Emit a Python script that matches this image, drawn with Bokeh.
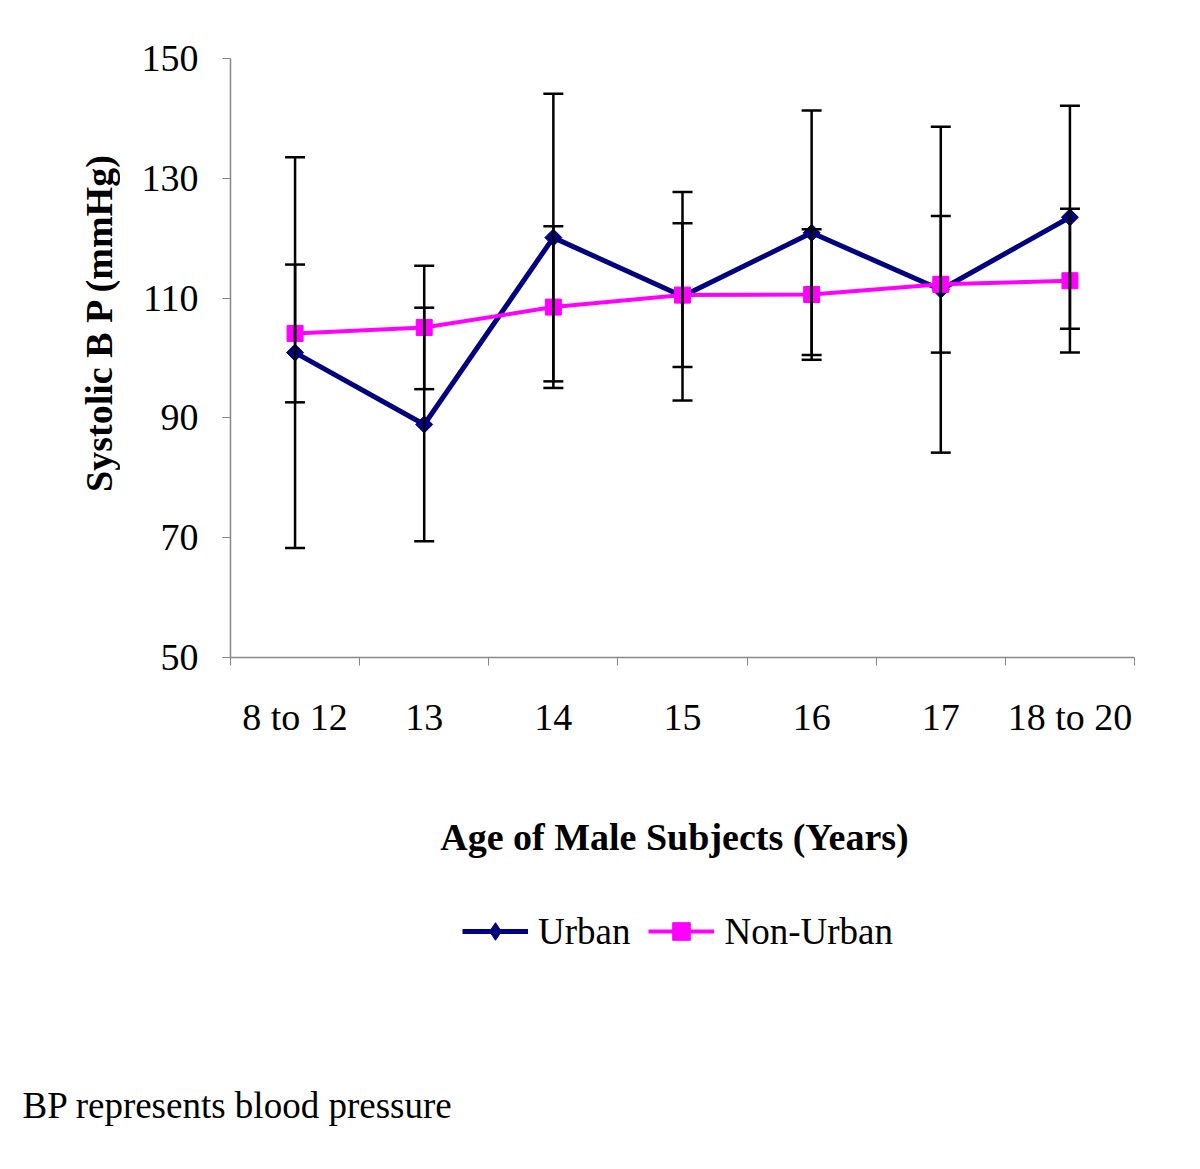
import math
from bokeh.plotting import figure
from bokeh.layouts import column, row
from bokeh.models import (ColumnDataSource, Whisker, TeeHead, FixedTicker, Label,
                          Legend, LegendItem, Range1d)
from bokeh.embed import file_html
from bokeh.resources import INLINE

categories = ["8 to 12", "13", "14", "15", "16", "17", "18 to 20"]
urban_mean = [100.9, 88.9, 120.1, 110.3, 120.9, 111.4, 123.5]
urban_sd = [32.6, 19.5, 24.0, 17.4, 20.4, 27.2, 18.6]
nonurban_mean = [104.1, 105.1, 108.5, 110.5, 110.6, 112.3, 112.9]
nonurban_sd = [11.5, 10.3, 13.5, 12.0, 10.9, 11.4, 12.0]
y_ticks = [50, 70, 90, 110, 130, 150]

FONT = "Liberation Serif"
URBAN_C = "#000080"
NONURBAN_C = "#FF00FF"
xs = [i + 0.5 for i in range(len(categories))]

TOP_H = 760
LEFT_W = 120
TOTAL_W = 1184
BOTTOM_H = 390
FRAME_TOP = 58
FRAME_BOTTOM = 657


def blank(fig):
    fig.outline_line_color = None
    fig.background_fill_color = "white"
    fig.border_fill_color = "white"


# ---- left strip with the y title (its frame is aligned with the main frame) ----
left = figure(width=LEFT_W, height=TOP_H, output_backend="svg", toolbar_location=None,
              x_axis_location=None, y_axis_location=None,
              x_range=Range1d(0, LEFT_W), y_range=Range1d(0, TOP_H),
              min_border=0)
blank(left)
left.grid.visible = False
left.add_layout(Label(x=98, y=FRAME_BOTTOM - 322, x_units="screen", y_units="screen",
                      text="Systolic B P (mmHg)", angle=math.pi / 2,
                      text_align="center", text_baseline="middle", text_color="black",
                      text_font=FONT, text_font_size="38px", text_font_style="bold"))

# ---- main plot ----
p = figure(width=TOTAL_W - LEFT_W, height=TOP_H, output_backend="svg",
           toolbar_location=None,
           x_range=Range1d(0, len(categories)), y_range=Range1d(50, 150),
           min_border_left=230 - LEFT_W, min_border_right=50, min_border_top=FRAME_TOP,
           min_border_bottom=TOP_H - FRAME_BOTTOM)
blank(p)
p.xgrid.visible = False
p.ygrid.visible = False

src_u = ColumnDataSource(dict(x=xs, y=urban_mean,
                              lo=[m - s for m, s in zip(urban_mean, urban_sd)],
                              hi=[m + s for m, s in zip(urban_mean, urban_sd)]))
src_n = ColumnDataSource(dict(x=xs, y=nonurban_mean,
                              lo=[m - s for m, s in zip(nonurban_mean, nonurban_sd)],
                              hi=[m + s for m, s in zip(nonurban_mean, nonurban_sd)]))

for src in (src_u, src_n):
    w = Whisker(source=src, base="x", upper="hi", lower="lo", dimension="height",
                line_color="black", line_width=2.5, level="glyph",
                upper_head=TeeHead(size=20, line_color="black", line_width=2.5),
                lower_head=TeeHead(size=20, line_color="black", line_width=2.5))
    p.add_layout(w)

p.line("x", "y", source=src_u, line_color=URBAN_C, line_width=5)
p.scatter("x", "y", source=src_u, marker="square", angle=math.pi / 4, size=12,
          fill_color=URBAN_C, line_color=URBAN_C)
p.line("x", "y", source=src_n, line_color=NONURBAN_C, line_width=4)
p.scatter("x", "y", source=src_n, marker="square", size=16,
          fill_color=NONURBAN_C, line_color=NONURBAN_C)

p.xaxis.ticker = FixedTicker(ticks=xs, minor_ticks=list(range(len(categories) + 1)))
p.xaxis.major_label_overrides = {x: c for x, c in zip(xs, categories)}
p.xaxis.major_tick_line_color = None
p.xaxis.major_tick_out = 0
p.xaxis.major_tick_in = 0
p.xaxis.minor_tick_out = 8
p.xaxis.minor_tick_in = 0
p.xaxis.minor_tick_line_color = "#888888"
p.xaxis.major_label_standoff = 30
p.xaxis.axis_line_color = "#888888"
p.xaxis.axis_line_width = 1.5

p.yaxis.ticker = FixedTicker(ticks=y_ticks)
p.yaxis.minor_tick_line_color = None
p.yaxis.major_tick_out = 8
p.yaxis.major_tick_in = 0
p.yaxis.major_tick_line_color = "#888888"
p.yaxis.axis_line_color = "#888888"
p.yaxis.axis_line_width = 1.5
p.yaxis.major_label_standoff = 24

for ax in (p.xaxis, p.yaxis):
    ax.major_label_text_font = FONT
    ax.major_label_text_font_size = "38px"
    ax.major_label_text_color = "black"

# ---- bottom strip: x title, legend, footnote ----
b = figure(width=TOTAL_W, height=BOTTOM_H, output_backend="svg", toolbar_location=None,
           x_axis_location=None, y_axis_location=None,
           x_range=Range1d(0, TOTAL_W), y_range=Range1d(0, BOTTOM_H),
           min_border=0)
blank(b)
b.grid.visible = False

b.add_layout(Label(x=674, y=BOTTOM_H - (836 - TOP_H), x_units="screen", y_units="screen",
                   text="Age of Male Subjects (Years)", text_color="black",
                   text_align="center", text_baseline="middle",
                   text_font=FONT, text_font_size="38px", text_font_style="bold"))
b.add_layout(Label(x=22, y=BOTTOM_H - (1105 - TOP_H), x_units="screen", y_units="screen",
                   text="BP represents blood pressure", text_color="black",
                   text_align="left", text_baseline="middle",
                   text_font=FONT, text_font_size="37px"))

# legend keys: renderers with no visible points, only used for the legend
nan_src = ColumnDataSource(dict(x=[float("nan")], y=[float("nan")]))
lu = b.line("x", "y", source=nan_src, line_color=URBAN_C, line_width=5)
su = b.scatter("x", "y", source=nan_src, marker="diamond", size=20,
               fill_color=URBAN_C, line_color=URBAN_C)
ln = b.line("x", "y", source=nan_src, line_color=NONURBAN_C, line_width=4)
sn = b.scatter("x", "y", source=nan_src, marker="square", size=16,
               fill_color=NONURBAN_C, line_color=NONURBAN_C)
legend = Legend(items=[LegendItem(label="Urban", renderers=[lu, su]),
                       LegendItem(label="Non-Urban", renderers=[ln, sn])],
                orientation="horizontal",
                location=(462, BOTTOM_H - (931 - TOP_H) - 22),
                glyph_width=66, glyph_height=44, label_standoff=10, spacing=18,
                padding=0, margin=0, border_line_color=None,
                background_fill_alpha=0, label_height=44,
                label_text_font=FONT, label_text_font_size="37px",
                label_text_color="black", label_text_baseline="middle")
b.add_layout(legend)

layout = column(row(left, p, spacing=0), b, spacing=0)
open("out.html", "w").write(file_html(layout, INLINE))
